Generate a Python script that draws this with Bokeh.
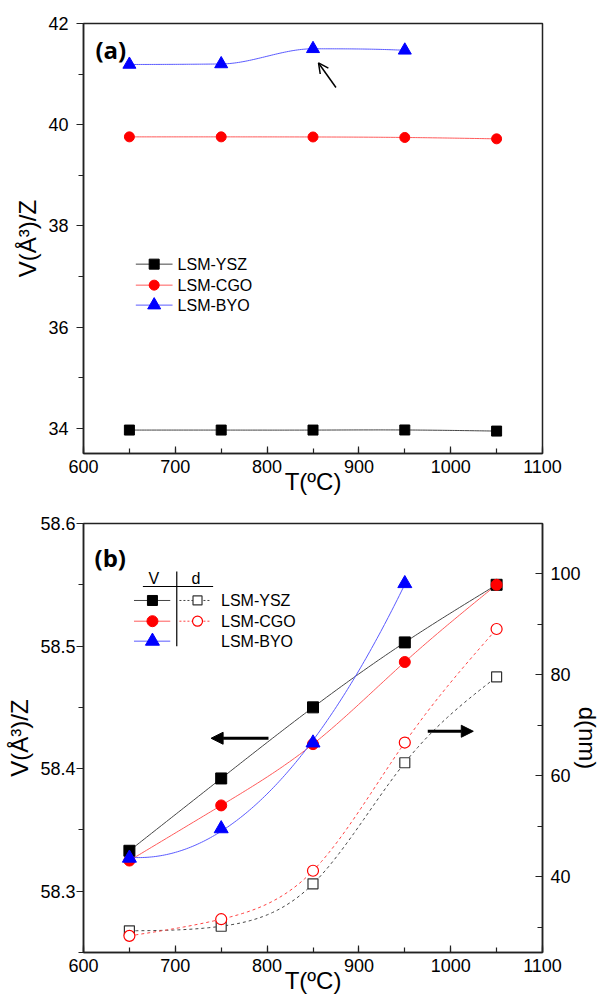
import numpy as np
from bokeh.plotting import figure
from bokeh.layouts import column
from bokeh.models import (Range1d, LinearAxis, SingleIntervalTicker, PrintfTickFormatter,
                          Arrow, OpenHead, NormalHead, Label)
from bokeh.embed import file_html
from bokeh.resources import INLINE

# ---------------- data ----------------
T = [650, 750, 850, 950, 1050]
T_byo = [650, 750, 850, 950]

# panel (a): V/Z (A^3)
a_ysz = [33.963, 33.963, 33.963, 33.965, 33.943]
a_cgo = [39.759, 39.759, 39.757, 39.747, 39.720]
a_byo = [41.19, 41.20, 41.50, 41.47]

# panel (b): V/Z (left axis) and d in nm (right axis)
b_v_ysz = [58.333, 58.392, 58.450, 58.503, 58.550]
b_v_cgo = [58.325, 58.370, 58.420, 58.487, 58.550]
b_v_byo = [58.327, 58.351, 58.421, 58.551]
b_d_ysz = [29.3, 30.2, 38.6, 62.6, 79.6]
b_d_cgo = [28.3, 31.6, 41.2, 66.6, 89.1]

names = ["LSM-YSZ", "LSM-CGO", "LSM-BYO"]

FONT = "Liberation Sans"
AXC = "#222222"


def spline(xs, ys, n=150):
    """natural cubic spline through the data points (for drawing only)"""
    x = np.asarray(xs, float)
    y = np.asarray(ys, float)
    m = len(x)
    h = np.diff(x)
    A = np.zeros((m, m))
    r = np.zeros(m)
    A[0, 0] = A[-1, -1] = 1.0
    for i in range(1, m - 1):
        A[i, i - 1] = h[i - 1]
        A[i, i] = 2 * (h[i - 1] + h[i])
        A[i, i + 1] = h[i]
        r[i] = 3 * ((y[i + 1] - y[i]) / h[i] - (y[i] - y[i - 1]) / h[i - 1])
    c = np.linalg.solve(A, r)
    b = (y[1:] - y[:-1]) / h - h * (2 * c[:-1] + c[1:]) / 3
    d = (c[1:] - c[:-1]) / (3 * h)
    xx = np.linspace(x[0], x[-1], n)
    k = np.clip(np.searchsorted(x, xx, side="right") - 1, 0, m - 2)
    t = xx - x[k]
    yy = y[k] + b[k] * t + c[k] * t ** 2 + d[k] * t ** 3
    return xx, yy


def pchip(xs, ys, n=150):
    """monotone cubic (PCHIP) curve through the data points (for drawing only)"""
    x = np.asarray(xs, float)
    y = np.asarray(ys, float)
    m = len(x)
    h = np.diff(x)
    dl = np.diff(y) / h
    s = np.zeros(m)
    for k in range(1, m - 1):
        if dl[k - 1] * dl[k] > 0:
            w1 = 2 * h[k] + h[k - 1]
            w2 = h[k] + 2 * h[k - 1]
            s[k] = (w1 + w2) / (w1 / dl[k - 1] + w2 / dl[k])

    def end(h0, h1, d0, d1):
        v = ((2 * h0 + h1) * d0 - h0 * d1) / (h0 + h1)
        if np.sign(v) != np.sign(d0):
            v = 0.0
        elif np.sign(d0) != np.sign(d1) and abs(v) > abs(3 * d0):
            v = 3 * d0
        return v

    s[0] = end(h[0], h[1], dl[0], dl[1])
    s[-1] = end(h[-1], h[-2], dl[-1], dl[-2])
    xx = np.linspace(x[0], x[-1], n)
    k = np.clip(np.searchsorted(x, xx, side="right") - 1, 0, m - 2)
    t = (xx - x[k]) / h[k]
    h00 = 2 * t ** 3 - 3 * t ** 2 + 1
    h10 = t ** 3 - 2 * t ** 2 + t
    h01 = -2 * t ** 3 + 3 * t ** 2
    h11 = t ** 3 - t ** 2
    yy = h00 * y[k] + h10 * h[k] * s[k] + h01 * y[k + 1] + h11 * h[k] * s[k + 1]
    return xx, yy


def polycurve(xs, ys, deg, n=150):
    coef = np.polyfit(xs, ys, deg)
    xx = np.linspace(min(xs), max(xs), n)
    return xx, np.polyval(coef, xx)


def style_common(p):
    p.grid.visible = False
    p.outline_line_color = AXC
    p.outline_line_width = 1.5
    p.background_fill_color = "white"
    p.border_fill_color = "white"


def style_x(ax, label_standoff):
    ax.ticker = SingleIntervalTicker(interval=100, num_minor_ticks=2)
    ax.axis_line_color = AXC
    ax.axis_line_width = 1.5
    ax.major_tick_line_color = AXC
    ax.minor_tick_line_color = AXC
    ax.major_tick_line_width = 1.2
    ax.minor_tick_line_width = 1.2
    ax.major_tick_in = 7
    ax.major_tick_out = 0
    ax.minor_tick_in = 5
    ax.minor_tick_out = 0
    ax.major_label_text_font = FONT
    ax.major_label_text_font_size = "18px"
    ax.major_label_text_color = "black"
    ax.major_label_standoff = 6
    ax.axis_label = "T(ºC)"
    ax.axis_label_text_font = FONT
    ax.axis_label_text_font_size = "24px"
    ax.axis_label_text_font_style = "normal"
    ax.axis_label_text_color = "black"
    ax.axis_label_standoff = label_standoff


def style_y(ax, interval, fmt, label, tick_in, standoff, label_standoff):
    ax.ticker = SingleIntervalTicker(interval=interval, num_minor_ticks=2)
    ax.formatter = PrintfTickFormatter(format=fmt)
    ax.axis_line_color = AXC
    ax.axis_line_width = 1.5
    ax.major_tick_line_color = AXC
    ax.minor_tick_line_color = AXC
    ax.major_tick_line_width = 1.2
    ax.minor_tick_line_width = 1.2
    if tick_in:
        ax.major_tick_in, ax.major_tick_out = 7, 0
        ax.minor_tick_in, ax.minor_tick_out = 5, 0
    else:
        ax.major_tick_in, ax.major_tick_out = 0, 7
        ax.minor_tick_in, ax.minor_tick_out = 0, 5
    ax.major_label_text_font = FONT
    ax.major_label_text_font_size = "18px"
    ax.major_label_text_color = "black"
    ax.major_label_standoff = standoff
    ax.axis_label = label
    ax.axis_label_text_font = FONT
    ax.axis_label_text_font_size = "24px"
    ax.axis_label_text_font_style = "normal"
    ax.axis_label_text_color = "black"
    ax.axis_label_standoff = label_standoff


# ---------------- panel (a) ----------------
p1 = figure(width=603, height=506, x_range=Range1d(600, 1100), y_range=Range1d(33.5, 42.0),
            output_backend="svg", toolbar_location=None,
            min_border_left=79, min_border_right=59, min_border_top=23, min_border_bottom=53)
style_common(p1)
style_x(p1.xaxis[0], -8)
style_y(p1.yaxis[0], 2, "%d", "V(Å³)/Z", False, 8, 4)

cols_line = ["#444444", "#ff5a5a", "#5a5aff"]
cols_mark = ["black", "red", "blue"]

xx, yy = spline(T, a_ysz)
p1.line(xx, yy, line_color=cols_line[0], line_width=1)
xx, yy = spline(T, a_cgo)
p1.line(xx, yy, line_color=cols_line[1], line_width=1)
xx, yy = pchip(T_byo, a_byo)
p1.line(xx, yy, line_color=cols_line[2], line_width=1)
p1.scatter(T, a_ysz, marker="square", size=10, fill_color="black", line_color="black")
p1.scatter(T, a_cgo, marker="circle", size=10, fill_color="red", line_color="red")
p1.scatter(T_byo, a_byo, marker="triangle", size=13, fill_color="blue", line_color="blue")

p1.add_layout(Arrow(end=OpenHead(size=10, line_width=1.5, line_color="black"),
                    x_start=875, y_start=40.735, x_end=856, y_end=41.22,
                    line_width=1.5, line_color="black"))
p1.add_layout(Label(x=613, y=41.49, text="(a)", text_font="Open Sans", text_font_style="bold",
                    text_font_size="24px", text_baseline="middle", text_color="black"))

# legend (a)
leg_rows = [37.243, 36.828, 36.433]
leg_markers = [("square", 10), ("circle", 10), ("triangle", 13)]
for i in range(3):
    p1.segment(x0=[657], y0=[leg_rows[i]], x1=[697], y1=[leg_rows[i]],
               line_color=cols_line[i], line_width=1)
    p1.scatter([677], [leg_rows[i]], marker=leg_markers[i][0], size=leg_markers[i][1],
               fill_color=cols_mark[i], line_color=cols_mark[i])
    p1.add_layout(Label(x=702.5, y=leg_rows[i], text=names[i], text_font=FONT,
                        text_font_size="16px", text_baseline="middle", text_color="black"))

# ---------------- panel (b) ----------------
p2 = figure(width=603, height=499, x_range=Range1d(600, 1100), y_range=Range1d(58.25, 58.6),
            output_backend="svg", toolbar_location=None,
            min_border_left=83, min_border_right=56, min_border_top=17, min_border_bottom=53)
p2.extra_y_ranges = {"d": Range1d(25, 110)}
style_common(p2)
style_x(p2.xaxis[0], -8)
style_y(p2.yaxis[0], 0.1, "%.1f", "V(Å³)/Z", False, 1, 4)
rax = LinearAxis(y_range_name="d")
style_y(rax, 20, "%d", "d(nm)", True, 8, -10)
p2.add_layout(rax, "right")

# V curves
xx, yy = spline(T, b_v_ysz)
p2.line(xx, yy, line_color=cols_line[0], line_width=1)
xx, yy = spline(T, b_v_cgo)
p2.line(xx, yy, line_color=cols_line[1], line_width=1)
xx, yy = polycurve(T_byo, b_v_byo, 2)
p2.line(xx, yy, line_color=cols_line[2], line_width=1)
# d curves
xx, yy = spline(T, b_d_ysz)
p2.line(xx, yy, line_color="#444444", line_width=1, line_dash="3 3", y_range_name="d")
xx, yy = spline(T, b_d_cgo)
p2.line(xx, yy, line_color="#ff4040", line_width=1, line_dash="3 3", y_range_name="d")

p2.scatter(T, b_d_ysz, marker="square", size=10, fill_color="white", line_color="#333333",
           line_width=1.2, y_range_name="d")
p2.scatter(T, b_d_cgo, marker="circle", size=11, fill_color="white", line_color="red",
           line_width=1.2, y_range_name="d")
p2.scatter(T, b_v_ysz, marker="square", size=11, fill_color="black", line_color="black")
p2.scatter(T, b_v_cgo, marker="circle", size=11, fill_color="red", line_color="red")
p2.scatter(T_byo, b_v_byo, marker="triangle", size=14, fill_color="blue", line_color="blue")

p2.add_layout(Arrow(end=NormalHead(size=12, fill_color="black", line_color="black"),
                    x_start=801.5, y_start=58.4248, x_end=739, y_end=58.4248,
                    line_width=3, line_color="black"))
p2.add_layout(Arrow(end=NormalHead(size=12, fill_color="black", line_color="black"),
                    x_start=975, y_start=58.4305, x_end=1024.6, y_end=58.4305,
                    line_width=3, line_color="black"))
p2.add_layout(Label(x=612, y=58.5725, text="(b)", text_font="Open Sans", text_font_style="bold",
                    text_font_size="24px", text_baseline="middle", text_color="black"))

# legend (b)
p2.add_layout(Label(x=676.5, y=58.5554, text="V", text_font=FONT, text_font_size="16px",
                    text_align="center", text_baseline="middle", text_color="black"))
p2.add_layout(Label(x=722.5, y=58.5554, text="d", text_font=FONT, text_font_size="16px",
                    text_align="center", text_baseline="middle", text_color="black"))
p2.segment(x0=[664.7], y0=[58.5486], x1=[741.2], y1=[58.5486], line_color="black", line_width=1.2)
p2.segment(x0=[701.6], y0=[58.5608], x1=[701.6], y1=[58.4999], line_color="black", line_width=1.2)
rows_b = [58.5372, 58.5203, 58.5040]
mk_b = [("square", 10), ("circle", 11), ("triangle", 14)]
for i in range(3):
    p2.segment(x0=[655], y0=[rows_b[i]], x1=[694.5], y1=[rows_b[i]],
               line_color=cols_line[i], line_width=1)
    p2.scatter([675.1], [rows_b[i]], marker=mk_b[i][0], size=mk_b[i][1],
               fill_color=cols_mark[i], line_color=cols_mark[i])
    if i < 2:
        p2.segment(x0=[704.5], y0=[rows_b[i]], x1=[738.7], y1=[rows_b[i]],
                   line_color=["#444444", "#ff4040"][i], line_width=1, line_dash="2 2")
        p2.scatter([724.2], [rows_b[i]], marker=mk_b[i][0], size=mk_b[i][1] - 1,
                   fill_color="white", line_color=["#333333", "red"][i], line_width=1.2)
    p2.add_layout(Label(x=749.8, y=rows_b[i], text=names[i], text_font=FONT,
                        text_font_size="16px", text_baseline="middle", text_color="black"))

layout = column(p1, p2, spacing=0)
open("out.html", "w").write(file_html(layout, INLINE))
